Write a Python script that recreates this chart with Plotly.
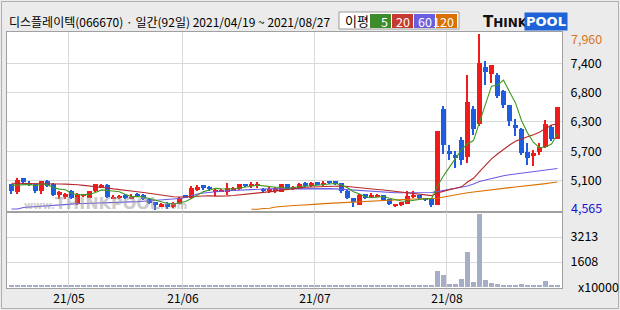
import plotly.graph_objects as go

# ------------------------------------------------------------------ data
title_text = "디스플레이텍(066670) · 일간(92일) 2021/04/19 ~ 2021/08/27"

open_ = [5067, 4912, 5182, 5086, 5057, 4922, 5134, 5076, 4854, 4825,
         4941, 4690, 4835, 4806, 4932, 4999, 5047, 4796, 4796, 4854,
         4796, 4883, 4864, 4777, 4710, 4632, 4675, 4623, 4690, 4845,
         4796, 4960, 5043, 5013, 4922, 4912, 4918, 4937, 4970, 5061,
         5034, 5034, 4970, 4937, 4932, 4918, 5067, 4970, 4974, 5092,
         5047, 5101, 5053, 5124, 5115, 5082, 4937, 4796, 4667, 4868,
         4820, 4820, 4851, 4768, 4638, 4656, 4690, 4820, 4845, 4796,
         4768, 4667, 6519, 5709, 5632, 5910, 5582, 6519, 6224, 7324,
         7188, 7175, 6855, 6585, 6210, 6133, 5684, 5612, 5678, 5774,
         6166, 5940]
high = [5076, 5182, 5192, 5124, 5067, 5124, 5153, 5086, 4932, 4893,
        4951, 4893, 4883, 4932, 5076, 5057, 5057, 4854, 4854, 4874,
        4874, 4893, 4874, 4787, 4719, 4700, 4710, 4729, 4816, 4854,
        5028, 5038, 5051, 5022, 4980, 4970, 5080, 5009, 5067, 5076,
        5111, 5111, 4984, 5003, 5015, 5076, 5072, 5028, 5080, 5099,
        5111, 5111, 5124, 5134, 5124, 5092, 4945, 4806, 4868, 4879,
        4887, 4874, 4858, 4777, 4685, 4719, 4941, 4932, 4864, 4806,
        4777, 6089, 6577, 5825, 5709, 5979, 7175, 6565, 7960, 7433,
        7362, 7208, 6880, 6600, 6326, 6147, 5857, 5728, 5857, 6307,
        6205, 6552]
low = [4874, 4874, 5067, 5028, 4893, 4874, 5009, 4835, 4777, 4777,
       4777, 4661, 4816, 4796, 4912, 4989, 4806, 4777, 4768, 4768,
       4777, 4816, 4758, 4681, 4565, 4623, 4594, 4604, 4681, 4787,
       4777, 4941, 4951, 4922, 4835, 4903, 4854, 4922, 4960, 5009,
       4989, 4984, 4918, 4899, 4899, 4912, 4960, 4960, 4964, 5018,
       5015, 5042, 5022, 5072, 5047, 4893, 4768, 4632, 4661, 4777,
       4791, 4810, 4739, 4656, 4627, 4646, 4681, 4791, 4777, 4739,
       4632, 4652, 5645, 5535, 5375, 5439, 5472, 6018, 6185, 6971,
       7015, 6726, 6533, 6180, 5987, 5632, 5439, 5408, 5632, 5761,
       5890, 5935]
close_ = [4932, 5144, 5105, 5047, 4941, 5115, 5028, 4854, 4903, 4874,
          4787, 4883, 4864, 4922, 5057, 5038, 4825, 4825, 4835, 4806,
          4825, 4835, 4768, 4700, 4661, 4690, 4642, 4706, 4806, 4796,
          4989, 5009, 4999, 4964, 4947, 4960, 4984, 4995, 5057, 5028,
          5067, 5063, 4937, 4970, 4980, 5067, 4970, 5009, 5070, 5028,
          5082, 5051, 5092, 5082, 5067, 4941, 4793, 4710, 4858, 4793,
          4851, 4864, 4754, 4690, 4677, 4710, 4835, 4854, 4787, 4754,
          4671, 6083, 5825, 5645, 5568, 5524, 6648, 6133, 7401, 7227,
          7356, 6770, 6596, 6288, 6147, 5665, 5568, 5670, 5780, 6224,
          5940, 6552]
volume = [90, 100, 85, 75, 80, 90, 80, 85, 75, 70,
          75, 85, 70, 75, 90, 80, 85, 70, 65, 70,
          65, 70, 75, 80, 90, 75, 70, 75, 85, 70,
          90, 80, 75, 70, 70, 65, 80, 70, 75, 75,
          80, 75, 70, 65, 70, 85, 80, 70, 80, 75,
          70, 70, 75, 70, 70, 80, 85, 90, 100, 75,
          70, 70, 80, 80, 70, 70, 85, 75, 70, 70,
          80, 1030, 750, 170, 170, 495, 2260, 320, 4680, 430,
          260, 170, 110, 110, 110, 170, 110, 90, 110, 365,
          110, 110]
ma5 = [5040, 5050, 5060, 5060, 5034, 5070, 5047, 4997, 4968, 4955,
       4889, 4860, 4862, 4866, 4903, 4953, 4941, 4933, 4916, 4866,
       4823, 4825, 4814, 4787, 4758, 4731, 4692, 4680, 4701, 4728,
       4788, 4861, 4920, 4951, 4982, 4976, 4971, 4970, 4989, 5005,
       5026, 5042, 5030, 5013, 5003, 5003, 4985, 4999, 5019, 5029,
       5032, 5048, 5065, 5067, 5075, 5047, 4995, 4919, 4874, 4819,
       4801, 4815, 4824, 4790, 4767, 4739, 4733, 4753, 4773, 4788,
       4780, 5030, 5224, 5396, 5558, 5729, 5842, 5904, 6255, 6587,
       6953, 6977, 7070, 6847, 6631, 6293, 6053, 5868, 5766, 5781,
       5836, 6033]
ma20 = [5080, 5080, 5080, 5078, 5077, 5076, 5073, 5070, 5067, 5064,
        5061, 5052, 5040, 5030, 5020, 5009, 4990, 4972, 4955, 4939,
        4934, 4918, 4902, 4884, 4870, 4849, 4830, 4822, 4817, 4814,
        4824, 4830, 4837, 4839, 4833, 4829, 4837, 4846, 4857, 4868,
        4880, 4892, 4900, 4914, 4929, 4948, 4965, 4980, 4993, 5005,
        5009, 5011, 5016, 5022, 5028, 5027, 5017, 5003, 4993, 4982,
        4971, 4961, 4952, 4938, 4922, 4905, 4898, 4890, 4876, 4862,
        4842, 4893, 4930, 4958, 4983, 5012, 5105, 5176, 5303, 5425,
        5550, 5646, 5738, 5818, 5891, 5939, 5976, 6016, 6066, 6139,
        6203, 6226]
ma60 = [4584, 4584, 4613, 4623, 4633, 4642, 4652, 4661, 4667, 4673,
        4679, 4685, 4688, 4692, 4694, 4696, 4700, 4706, 4712, 4715,
        4719, 4727, 4735, 4742, 4752, 4762, 4771, 4781, 4787, 4806,
        4845, 4874, 4893, 4908, 4918, 4928, 4935, 4943, 4951, 4957,
        4962, 4966, 4970, 4972, 4974, 4976, 4978, 4980, 4982, 4984,
        4984, 4984, 4982, 4978, 4972, 4964, 4955, 4945, 4935, 4926,
        4918, 4912, 4906, 4903, 4899, 4897, 4897, 4897, 4899, 4901,
        4903, 4920, 4939, 4957, 4980, 4999, 5028, 5067, 5115, 5144,
        5173, 5202, 5225, 5244, 5259, 5273, 5286, 5302, 5317, 5333,
        5350, 5366]
ma120 = [None] * 40 + [
        4579, 4579, 4594, 4598, 4623, 4636, 4644, 4652, 4658, 4661,
        4675, 4679, 4688, 4694, 4700, 4714, 4723, 4731, 4737, 4741,
        4746, 4752, 4758, 4766, 4771, 4773, 4775, 4777, 4779, 4783,
        4787, 4793, 4816, 4839, 4860, 4879, 4897, 4912, 4928, 4943,
        4957, 4970, 4984, 4997, 5009, 5020, 5034, 5047, 5061, 5074,
        5090, 5105]

ma_periods = [5, 20, 60, 120]
month_start_idx = [10, 29, 51, 73]
month_labels = ["21/05", "21/06", "21/07", "21/08"]
price_tickvals = [5131, 5697, 6263, 6828, 7394]
price_ticktext = ["5,100", "5,700", "6,300", "6,800", "7,400"]
price_max, price_min = 7960, 4565
price_max_text, price_min_text = "7,960", "4,565"
vol_tickvals = [1608, 3213]
vol_ticktext = ["1608", "3213"]
vol_unit = "x10000"
legend_label = "이평"

# ------------------------------------------------------------------ style
W, H = 620, 310
PL, PR, PT, PB = 7, 562, 32, 288
SPLIT = 212
FONT = "Noto Sans CJK KR, Noto Sans, sans-serif"
UP, DOWN, VOLC = "#f21b1b", "#1f5ddf", "#a5aec6"
MA_COLORS = ["#3f9a1f", "#b8282a", "#6b5ce6", "#dc6f00"]
LEG_COLORS = ["#3d8b2a", "#c63a30", "#6b5de0", "#d97000"]
GRID = "#d9d9d9"
BORDER = "#a0a0a0"


def px_x(px):
    return (px - PL) / (PR - PL)


def px_y(py):
    return (PB - py) / (PB - PT)


n = len(close_)
idx = list(range(n))
colors = [UP if c >= o else DOWN for o, c in zip(open_, close_)]
body_base = [min(o, c) for o, c in zip(open_, close_)]
body_h = [abs(c - o) for o, c in zip(open_, close_)]
wick_h = [h - l for h, l in zip(high, low)]

fig = go.Figure()

for vals, col in zip([ma120, ma60, ma20, ma5], MA_COLORS[::-1]):
    fig.add_trace(go.Scatter(x=idx, y=vals, mode="lines",
                             line=dict(color=col, width=1.1),
                             xaxis="x", yaxis="y", hoverinfo="skip"))

fig.add_trace(go.Bar(x=idx, y=wick_h, base=low, width=0.17,
                     marker=dict(color=colors, line=dict(width=0)),
                     xaxis="x", yaxis="y"))
fig.add_trace(go.Bar(x=idx, y=body_h, base=body_base, width=0.83,
                     marker=dict(color=colors, line=dict(width=0)),
                     xaxis="x", yaxis="y"))
fig.add_trace(go.Bar(x=idx, y=volume, width=0.83,
                     marker=dict(color=VOLC, line=dict(width=0)),
                     xaxis="x2", yaxis="y2"))

tickpos = [m - 0.42 for m in month_start_idx]
xr = [-0.75, n - 0.25]
split_frac = px_y(SPLIT)

common_x = dict(range=xr, tickvals=tickpos, showgrid=True, gridcolor=GRID,
                gridwidth=1, zeroline=False, showline=True, mirror=True,
                linecolor=BORDER, linewidth=1, ticks="", fixedrange=True)

fig.update_layout(
    width=W, height=H, template="none",
    margin=dict(l=PL, r=W - PR, t=PT, b=H - PB, pad=0),
    paper_bgcolor="#ebebeb", plot_bgcolor="#ffffff",
    showlegend=False, barmode="overlay", bargap=0,
    font=dict(family=FONT, size=12, color="#000000"),
    xaxis=dict(domain=[0, 1], anchor="y", showticklabels=False, **common_x),
    xaxis2=dict(domain=[0, 1], anchor="y2", matches="x",
                ticktext=month_labels, showticklabels=True,
                tickfont=dict(family=FONT, size=12, color="#000"), **common_x),
    yaxis=dict(domain=[split_frac, 1], anchor="x", side="right",
               range=[4526.4, 7998.6], tickvals=price_tickvals,
               ticktext=price_ticktext, showgrid=True, gridcolor=GRID,
               zeroline=False, showline=True, mirror=True, linecolor=BORDER,
               ticks="outside", ticklen=5, tickcolor="rgba(0,0,0,0)",
               tickfont=dict(family=FONT, size=12.5, color="#000")),
    yaxis2=dict(domain=[0, split_frac], anchor="x2", side="right",
                range=[-64, 4824], tickvals=vol_tickvals, ticktext=vol_ticktext,
                showgrid=True, gridcolor=GRID, zeroline=False, showline=True,
                mirror=True, linecolor=BORDER, ticks="outside", ticklen=5,
                tickcolor="rgba(0,0,0,0)",
                tickfont=dict(family=FONT, size=12.5, color="#000")),
)

ann = []
shapes = []
# title
ann.append(dict(text=title_text, x=px_x(7), y=px_y(21), xref="paper", yref="paper",
                xanchor="left", yanchor="middle", showarrow=False,
                font=dict(family=FONT, size=12, color="#000")))
# max / min price labels
ann.append(dict(text=price_max_text, x=1, xshift=7, y=price_max, yshift=-4,
                xref="paper", yref="y", xanchor="left", yanchor="middle",
                showarrow=False, font=dict(family=FONT, size=12.5, color="#d8741c")))
ann.append(dict(text=price_min_text, x=1, xshift=7, y=price_min, yshift=3,
                xref="paper", yref="y", xanchor="left", yanchor="middle",
                showarrow=False, font=dict(family=FONT, size=12.5, color="#1414d8")))
# volume unit
ann.append(dict(text=vol_unit, x=px_x(576), y=px_y(286), xref="paper", yref="paper",
                xanchor="left", yanchor="middle", showarrow=False,
                font=dict(family=FONT, size=12.5, color="#000")))
# watermark
ann.append(dict(text="<span style='font-size:10px'>www.</span>THINKPOOL"
                     "<span style='font-size:10px'>.com</span>",
                x=px_x(22), y=px_y(203), xref="paper", yref="paper",
                xanchor="left", yanchor="middle", showarrow=False, opacity=0.5,
                font=dict(family="DejaVu Sans", size=16, color="#9a9a9a",
                          weight="bold")))

# legend box
shapes.append(dict(type="rect", xref="paper", yref="paper",
                   x0=px_x(339), x1=px_x(459), y0=px_y(29), y1=px_y(12),
                   line=dict(color="#9a9a9a", width=1), fillcolor="#ffffff"))
ann.append(dict(text=legend_label, x=px_x(343), y=px_y(20.5), xref="paper", yref="paper",
                xanchor="left", yanchor="middle", showarrow=False,
                font=dict(family=FONT, size=13, color="#000")))
for k, (p, col) in enumerate(zip(ma_periods, LEG_COLORS)):
    x0 = 370 + 22 * k
    shapes.append(dict(type="rect", xref="paper", yref="paper",
                       x0=px_x(x0), x1=px_x(x0 + 21), y0=px_y(28), y1=px_y(14),
                       line=dict(width=0), fillcolor=col))
    ann.append(dict(text=str(p), x=px_x(x0 + 20), y=px_y(21), xref="paper",
                    yref="paper", xanchor="right", yanchor="middle",
                    showarrow=False, font=dict(family=FONT, size=12.5, color="#fff")))

# logo
ann.append(dict(text="T<span style='font-size:12px'>HINK</span>", x=px_x(481), y=px_y(21.5),
                xref="paper", yref="paper", xanchor="left", yanchor="middle",
                showarrow=False,
                font=dict(family="DejaVu Sans", size=15, color="#111", weight="bold")))
ann.append(dict(text="POOL", x=px_x(546), y=px_y(21.5), xref="paper", yref="paper",
                xanchor="center", yanchor="middle", showarrow=False,
                bgcolor="#1f63d8", borderpad=1,
                font=dict(family="DejaVu Sans", size=13, color="#fff", weight="bold")))

# outer frame
shapes.append(dict(type="rect", xref="paper", yref="paper",
                   x0=px_x(1.5), x1=px_x(618.5), y0=px_y(308.5), y1=px_y(1.5),
                   line=dict(color="#b0b0b0", width=1), fillcolor="rgba(0,0,0,0)",
                   layer="below"))

fig.update_layout(annotations=ann, shapes=shapes)
fig.write_html("out.html", config={"displayModeBar": False})
